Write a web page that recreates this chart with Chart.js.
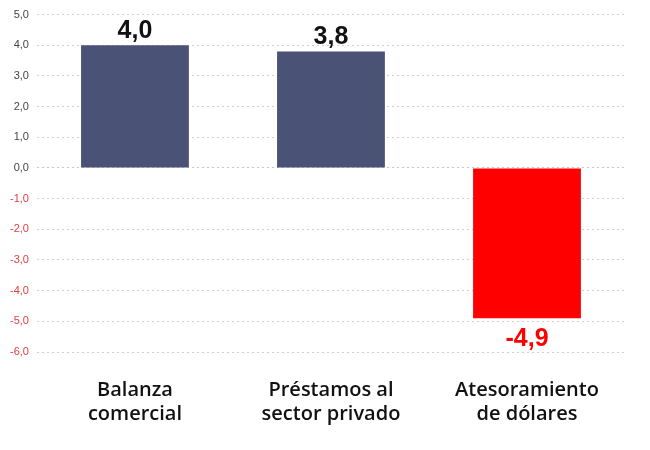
<!DOCTYPE html>
<html><head><meta charset="utf-8">
<script src="https://cdn.jsdelivr.net/npm/chart.js@4/dist/chart.umd.min.js"></script>
<style>html,body{margin:0;background:#fff}#wrap{width:650px;height:450px}</style>
</head><body><div id="wrap"><canvas id="c"></canvas></div>
<script>
const categories = [['Balanza', 'comercial'], ['Préstamos al', 'sector privado'], ['Atesoramiento', 'de dólares']];
const values = [4.0, 3.8, -4.9];
const barColors = ['#4a5275', '#4a5275', '#ff0000'];

const fmt = v => v.toFixed(1).replace('.', ',');

const valueLabels = {
  id: 'valueLabels',
  afterDatasetsDraw(chart) {
    const ctx = chart.ctx;
    chart.getDatasetMeta(0).data.forEach((bar, i) => {
      const v = values[i];
      ctx.save();
      ctx.font = "bold 25px 'Liberation Sans', Arial, sans-serif";
      ctx.textAlign = 'center';
      ctx.fillStyle = v < 0 ? '#ff0000' : '#111';
      ctx.textBaseline = v < 0 ? 'top' : 'bottom';
      ctx.fillText(fmt(v), bar.x, v < 0 ? bar.y + 8 : bar.y - 2);
      ctx.restore();
    });
  }
};

new Chart(document.getElementById('c'), {
  type: 'bar',
  data: { labels: categories, datasets: [{ data: values, backgroundColor: barColors, categoryPercentage: 1, barPercentage: 0.55 }] },
  options: {
    responsive: true, maintainAspectRatio: false, animation: false,
    layout: { padding: { top: 10, right: 25, left: 2, bottom: 6 } },
    plugins: { legend: { display: false }, tooltip: { enabled: false } },
    scales: {
      x: {
        grid: { display: false }, border: { display: false },
        ticks: { color: '#111', font: { family: "'Open Sans', sans-serif", size: 20, weight: '600' }, padding: 18, maxRotation: 0 }
      },
      y: {
        min: -6, max: 5,
        ticks: {
          stepSize: 1, padding: 8,
          font: { family: "'Liberation Sans', Arial, sans-serif", size: 11 },
          color: c => c.tick.value < 0 ? '#e04040' : '#444',
          callback: v => fmt(v)
        },
        border: { display: false, dash: [2, 3] },
        grid: {
          drawTicks: false,
          color: c => c.tick.value === 0 ? '#c8c8c8' : '#d0d0d0',
          lineWidth: 1
        }
      }
    }
  },
  plugins: [valueLabels]
});
</script></body></html>
